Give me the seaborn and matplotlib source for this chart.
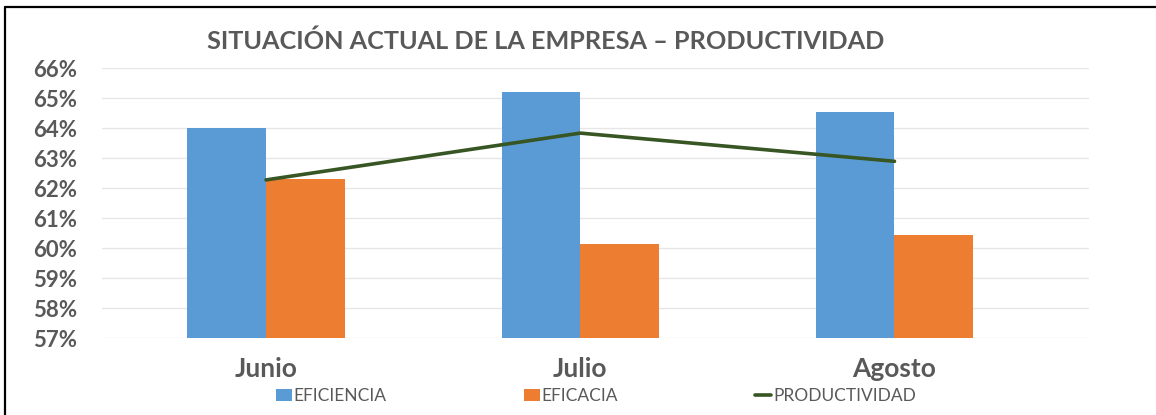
import numpy as np
import pandas as pd
import matplotlib
matplotlib.use("Agg")
import matplotlib.pyplot as plt
from matplotlib.ticker import PercentFormatter, FixedLocator
from matplotlib.patches import Patch
from matplotlib.lines import Line2D
import seaborn as sns

# Monthly indicators (fractions)
months = ["Junio", "Julio", "Agosto"]
eficiencia = [0.640, 0.652, 0.6455]
eficacia = [0.623, 0.6014, 0.6044]
productividad = [0.6227, 0.6383, 0.6289]

series_names = ["EFICIENCIA", "EFICACIA", "PRODUCTIVIDAD"]
colors = {"EFICIENCIA": "#5B9BD5", "EFICACIA": "#ED7D31", "PRODUCTIVIDAD": "#375623"}
text_gray = "#595959"
grid_gray = "#E6E6E6"

sns.set_theme(style="white")
plt.rcParams["font.family"] = ["Lato", "DejaVu Sans"]

bars = pd.DataFrame({
    "mes": months * 2,
    "valor": eficiencia + eficacia,
    "serie": ["EFICIENCIA"] * 3 + ["EFICACIA"] * 3,
})

fig = plt.figure(figsize=(11.56, 4.15), dpi=100)
ax = fig.add_axes([102 / 1156, 1 - 338 / 415, (1089 - 102) / 1156, (338 - 68) / 415])

sns.barplot(data=bars, x="mes", y="valor", hue="serie", order=months,
            hue_order=series_names[:2], palette=colors, width=0.5, saturation=1,
            legend=False, ax=ax, zorder=2, linewidth=0)
sns.lineplot(x=np.arange(len(months)), y=productividad, color=colors["PRODUCTIVIDAD"],
             linewidth=2.6, ax=ax, zorder=3)

ax.set_ylim(0.57, 0.66)
ax.set_xlim(-0.522, 2.619)
ax.yaxis.set_major_locator(FixedLocator(np.arange(0.57, 0.6601, 0.01)))
ax.yaxis.set_major_formatter(PercentFormatter(1.0, decimals=0))
ax.yaxis.grid(True, color=grid_gray, linewidth=1.0, zorder=0)
ax.set_axisbelow(True)
for s in ax.spines.values():
    s.set_visible(False)
ax.set_xlabel("")
ax.set_ylabel("")
ax.set_xticks(range(len(months)))
ax.set_xticklabels(months)
ax.tick_params(axis="y", length=0, pad=18, labelsize=16, labelcolor=text_gray)
ax.tick_params(axis="x", length=0, pad=14, labelsize=19, labelcolor=text_gray)
for lab in ax.get_yticklabels() + ax.get_xticklabels():
    lab.set_fontweight("bold")

fig.text(546 / 1156, 1 - 41 / 415, "SITUACIÓN ACTUAL DE LA EMPRESA – PRODUCTIVIDAD",
         ha="center", va="center", fontsize=18.2, fontweight="bold", color=text_gray)

handles = [
    Patch(facecolor=colors["EFICIENCIA"], edgecolor="none"),
    Patch(facecolor=colors["EFICACIA"], edgecolor="none"),
    Line2D([0], [0], color=colors["PRODUCTIVIDAD"], linewidth=2.6),
]
fig.legend(handles, series_names, loc="center", bbox_to_anchor=(596 / 1156, 1 - 396 / 415),
           ncol=3, frameon=False, fontsize=12.5, labelcolor=text_gray,
           handlelength=0.9, handleheight=0.7, handletextpad=0.12, columnspacing=7.9)

# outer frame (left and top edges)
fig.add_artist(Line2D([5 / 1156, 5 / 1156], [0, 1 - 7.5 / 415], color="black", linewidth=1.6,
                      transform=fig.transFigure))
fig.add_artist(Line2D([5 / 1156, 1], [1 - 7.5 / 415, 1 - 7.5 / 415], color="black", linewidth=1.6,
                      transform=fig.transFigure))

fig.savefig("out.png", dpi=100, facecolor="white")
